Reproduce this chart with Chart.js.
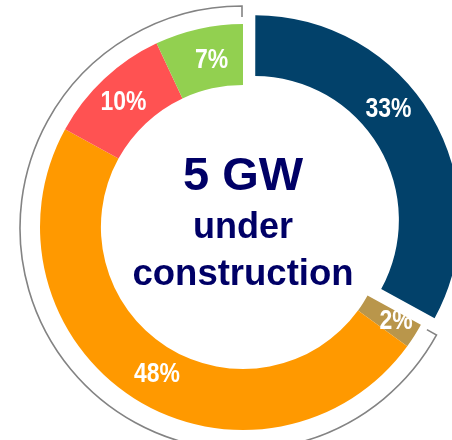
<!DOCTYPE html>
<html>
<head>
<meta charset="utf-8">
<script src="https://cdn.jsdelivr.net/npm/chart.js@4"></script>
<style>
  html, body { margin: 0; padding: 0; background: #ffffff; }
  #wrap { position: relative; width: 452px; height: 440px; }
</style>
</head>
<body>
<div id="wrap"><canvas id="c" width="452" height="440"></canvas></div>
<script>
// Share of capacity under construction, by segment (percent)
const shares = [33, 2, 48, 10, 7];
const sliceColors = ['#02416a', '#b9964b', '#ff9900', '#ff5252', '#92d050'];
const sliceOffsets = [56, 0, 0, 0, 0];
const sliceLabels = shares.map(v => v + '%');
const centerLines = ['5 GW', 'under', 'construction'];

// Where each percentage sits along its slice (0 = start, 1 = end)
// and how far it is pushed out from the middle of the ring
const labelAlong = [0.42, 0.3, 0.49, 0.5, 0.58];
const labelPush = [2, 6, -4, 2, -1];

const ringText = {
  id: 'ringText',
  afterDatasetsDraw(chart) {
    const ctx = chart.ctx;
    const arcs = chart.getDatasetMeta(0).data;
    const cx = arcs[0].x, cy = arcs[0].y;

    // grey bracket running round every slice after the first
    const first = arcs[1], last = arcs[arcs.length - 1];
    const R = 222, tick = 11;
    const bx = cx - 1, by = cy + 1;
    const a0 = first.startAngle, a1 = last.endAngle;
    ctx.save();
    ctx.strokeStyle = '#838383';
    ctx.lineWidth = 1.6;
    ctx.lineJoin = 'miter';
    ctx.beginPath();
    ctx.moveTo(bx + Math.cos(a0) * (R - tick), by + Math.sin(a0) * (R - tick));
    ctx.lineTo(bx + Math.cos(a0) * R, by + Math.sin(a0) * R);
    ctx.arc(bx, by, R, a0, a1);
    ctx.lineTo(bx + Math.cos(a1) * (R - tick), by + Math.sin(a1) * (R - tick));
    ctx.stroke();
    ctx.restore();

    // percentage labels inside the ring
    arcs.forEach((arc, i) => {
      const o = (arc.options.offset || 0) / 4;
      const mid = (arc.startAngle + arc.endAngle) / 2;
      const ox = cx + Math.cos(mid) * o, oy = cy + Math.sin(mid) * o;
      const ang = arc.startAngle + (arc.endAngle - arc.startAngle) * labelAlong[i];
      const r = (arc.innerRadius + arc.outerRadius) / 2 + labelPush[i];
      const x = ox + Math.cos(ang) * r, y = oy + Math.sin(ang) * r;
      const size = 28;
      ctx.save();
      ctx.translate(x, y + size * 0.358);
      ctx.scale(0.82, 1);
      ctx.font = 'bold ' + size + 'px "Liberation Sans", Arial, sans-serif';
      ctx.fillStyle = '#ffffff';
      ctx.textAlign = 'center';
      ctx.textBaseline = 'alphabetic';
      ctx.fillText(sliceLabels[i], 0, 0);
      ctx.restore();
    });

    // headline in the hole
    const sizes = [47, 36, 36.5];
    const baselines = [-37, 11, 58];
    ctx.save();
    ctx.fillStyle = '#000066';
    ctx.textAlign = 'center';
    ctx.textBaseline = 'alphabetic';
    centerLines.forEach((t, i) => {
      ctx.font = 'bold ' + sizes[i] + 'px "Liberation Sans", Arial, sans-serif';
      ctx.fillText(t, cx, cy + baselines[i]);
    });
    ctx.restore();
  }
};

new Chart(document.getElementById('c'), {
  type: 'doughnut',
  data: {
    labels: sliceLabels,
    datasets: [{
      data: shares,
      backgroundColor: sliceColors,
      offset: sliceOffsets,
      hoverOffset: 0,
      borderWidth: 0
    }]
  },
  options: {
    responsive: false,
    animation: false,
    events: [],
    radius: 203,
    cutout: '70%',
    layout: { padding: { left: 34, top: 14, right: 0, bottom: 0 } },
    plugins: {
      legend: { display: false },
      tooltip: { enabled: false }
    }
  },
  plugins: [ringText]
});
</script>
</body>
</html>
